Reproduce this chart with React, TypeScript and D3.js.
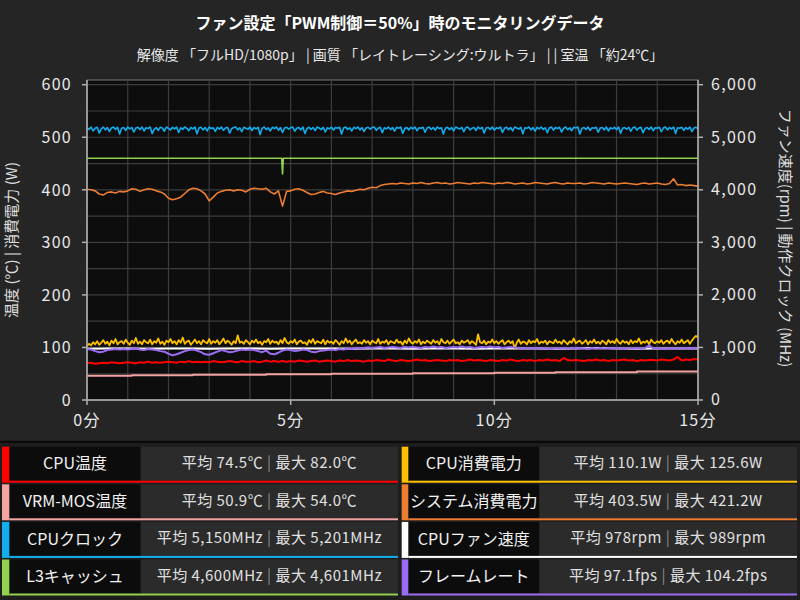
import React from "react";
import * as d3 from "d3";

const TITLE = "ファン設定「PWM制御＝50%」時のモニタリングデータ";
const SUBTITLE = "解像度 「フルHD/1080p」 | 画質 「レイトレーシング:ウルトラ」 |  | 室温 「約24℃」";
const LEFT_AXIS_TITLE = "温度 (℃) | 消費電力 (W)";
const RIGHT_AXIS_TITLE = "ファン速度(rpm) | 動作クロック (MHz)";

const leftTicks = [0, 100, 200, 300, 400, 500, 600];
const rightTicks = [0, 1000, 2000, 3000, 4000, 5000, 6000];
const timeTicks = [0, 5, 10, 15];
const timeTickLabels = ["0分", "5分", "10分", "15分"];

// sampled every 0.1 minute (6 s), 0..15 min
const sampleMinutes = d3.range(151).map((i) => i / 10);
// sampled every 0.05 minute (3 s), 0..15 min
const denseMinutes = d3.range(301).map((i) => i / 20);

const cpuClock = [
  5180, 5150, 5195, 5120, 5170, 5190, 5080, 5160, 5195, 5140, 5185, 5110, 5175, 5195, 5150, 5190, 5060, 5170, 5185, 5130,
  5195, 5160, 5185, 5100, 5175, 5190, 5145, 5195, 5120, 5180, 5165, 5195, 5070, 5150, 5185, 5130, 5190, 5175, 5115, 5195,
  5170, 5140, 5190, 5160, 5195, 5090, 5180, 5150, 5195, 5170, 5125, 5185, 5160, 5195, 5065, 5175, 5190, 5140, 5185, 5120,
  5195, 5165, 5180, 5110, 5190, 5155, 5195, 5130, 5175, 5190, 5080, 5160, 5185, 5195, 5140, 5180, 5105, 5190, 5170, 5150,
  5195, 5125, 5185, 5160, 5190, 5050, 5170, 5195, 5145, 5180, 5120, 5190, 5165, 5195, 5135, 5185, 5090, 5175, 5190, 5155,
  5180, 5195, 5115, 5170, 5185, 5140, 5195, 5070, 5165, 5190, 5150, 5185, 5125, 5195, 5175, 5145, 5190, 5100, 5180, 5160,
  5195, 5135, 5185, 5170, 5190, 5060, 5175, 5195, 5150, 5180, 5120, 5190, 5165, 5195, 5140, 5185, 5110, 5175, 5190, 5155,
  5185, 5195, 5130, 5170, 5190, 5085, 5180, 5160, 5195, 5145, 5185, 5115, 5190, 5170, 5195, 5075, 5165, 5185, 5140, 5190,
  5160, 5195, 5125, 5180, 5170, 5190, 5095, 5175, 5195, 5150, 5185, 5135, 5195, 5165, 5180, 5060, 5170, 5190, 5145, 5185,
  5120, 5195, 5175, 5155, 5190, 5105, 5180, 5195, 5140, 5170, 5185, 5130, 5195, 5160, 5190, 5080, 5175, 5185, 5150, 5195,
  5135, 5180, 5165, 5195, 5090, 5170, 5190, 5145, 5185, 5120, 5195, 5175, 5155, 5190, 5065, 5180, 5170, 5195, 5140, 5185,
  5115, 5190, 5160, 5195, 5150, 5180, 5085, 5175, 5195, 5135, 5185, 5165, 5190, 5100, 5170, 5195, 5145, 5180, 5125, 5190,
  5175, 5195, 5060, 5165, 5185, 5150, 5195, 5130, 5180, 5170, 5190, 5095, 5175, 5185, 5140, 5195, 5120, 5180, 5160, 5190,
  5145, 5195, 5075, 5170, 5185, 5155, 5190, 5115, 5180, 5195, 5135, 5175, 5190, 5085, 5165, 5185, 5150, 5195, 5125, 5180,
  5170, 5190, 5105, 5175, 5195, 5140, 5185, 5160, 5195, 5070, 5180, 5170, 5190, 5130, 5185, 5155, 5195, 5110, 5175, 5190,
  5160,
];

const cpuPower = [
  103, 107, 104, 110, 106, 112, 105, 109, 114, 107, 111, 104, 113, 108, 116, 106, 110, 112, 107, 115,
  109, 105, 113, 108, 118, 107, 111, 106, 114, 110, 108, 115, 106, 112, 109, 117, 107, 111, 105, 113,
  110, 116, 108, 112, 106, 114, 109, 119, 107, 111, 113, 105, 110, 115, 108, 112, 106, 114, 110, 108,
  116, 107, 112, 109, 114, 106, 111, 117, 108, 113, 110, 105, 112, 108, 123, 109, 111, 107, 114, 110,
  106, 113, 109, 115, 108, 111, 105, 112, 110, 116, 107, 113, 109, 111, 106, 114, 108, 118, 110, 107,
  112, 109, 115, 106, 111, 113, 108, 110, 105, 114, 109, 116, 107, 112, 110, 108, 115, 106, 113, 109,
  111, 107, 114, 110, 105, 112, 108, 117, 109, 113, 106, 111, 115, 108, 110, 107, 114, 109, 112, 106,
  113, 110, 108, 116, 107, 111, 109, 114, 106, 112, 110, 108, 115, 109, 111, 105, 113, 108, 117, 110,
  107, 112, 109, 115, 106, 111, 108, 113, 110, 107, 114, 109, 112, 106, 116, 110, 108, 113, 107, 111,
  115, 108, 110, 106, 113, 109, 111, 114, 107, 112, 109, 105, 125, 110, 108, 113, 106, 111, 109, 115,
  108, 112, 107, 111, 114, 106, 110, 113, 108, 112, 98, 109, 115, 107, 111, 110, 106, 114, 108, 112,
  110, 116, 107, 111, 109, 113, 106, 112, 110, 108, 115, 109, 111, 107, 114, 110, 106, 112, 109, 117,
  108, 111, 113, 107, 110, 114, 106, 112, 109, 115, 108, 111, 107, 113, 110, 106, 114, 109, 112, 108,
  116, 110, 107, 113, 109, 111, 106, 114, 108, 112, 110, 117, 107, 111, 109, 113, 106, 115, 110, 108,
  112, 109, 114, 107, 111, 113, 108, 116, 110, 106, 112, 109, 115, 108, 111, 114, 107, 113, 118, 122,
  119,
];

const systemPower = [
  401, 400, 398, 392, 390, 395, 396, 394, 397, 396,
  398, 402, 401, 397, 400, 402, 401, 398, 396, 392,
  384, 381, 383, 386, 393, 400, 403, 402, 398, 392,
  379, 386, 394, 397, 399, 400, 398, 400, 399, 396,
  401, 403, 402, 401, 403, 396, 392, 398, 369, 397,
  398, 401, 402, 399, 395, 391, 392, 395, 397, 394,
  393, 391, 394, 396, 398, 397, 399, 401, 400, 403,
  405, 404, 408, 410, 411, 412, 411, 413, 412, 411,
  413, 412, 414, 412, 411, 413, 414, 412, 413, 411,
  412, 414, 413, 412, 411, 413, 412, 414, 413, 412,
  411, 413, 412, 414, 413, 411, 412, 413, 411, 412,
  414, 413, 412, 411, 413, 414, 412, 411, 413, 412,
  412, 413, 411, 412, 414, 413, 412, 411, 413, 412,
  411, 412, 413, 412, 411, 410, 412, 413, 411, 412,
  413, 411, 410, 412, 421, 409, 410, 408, 409, 408, 407,
];

const cpuTemp = [
  70, 71, 69, 70, 71, 70, 72, 71, 70, 71,
  72, 71, 70, 72, 71, 73, 71, 72, 71, 72,
  73, 72, 71, 73, 72, 74, 72, 73, 72, 73,
  72, 74, 73, 72, 73, 74, 73, 72, 74, 73,
  73, 74, 72, 73, 75, 73, 74, 73, 74, 73,
  74, 73, 75, 74, 73, 74, 75, 73, 74, 75,
  74, 73, 75, 74, 76, 74, 75, 74, 73, 75,
  74, 76, 75, 74, 77, 75, 74, 76, 75, 74,
  75, 77, 75, 76, 74, 75, 76, 75, 74, 76,
  75, 76, 74, 75, 77, 75, 76, 75, 74, 76,
  75, 74, 76, 75, 77, 75, 74, 76, 75, 76,
  74, 76, 75, 77, 75, 76, 74, 80, 76, 75,
  76, 75, 74, 76, 75, 77, 75, 76, 74, 76,
  75, 76, 77, 75, 76, 74, 76, 75, 76, 76,
  75, 77, 76, 75, 77, 82, 75, 77, 76, 78, 77,
];

const frameRate = [
  97, 96, 93, 91, 92, 95, 96, 97, 96, 97,
  96, 97, 98, 96, 95, 97, 96, 95, 93, 92,
  88, 85, 87, 90, 93, 95, 96, 94, 91, 87,
  86, 89, 92, 95, 93, 91, 92, 94, 96, 95,
  96, 95, 93, 91, 94, 88, 87, 90, 94, 96,
  95, 93, 94, 96, 95, 92, 91, 93, 94, 95,
  96, 95, 97, 96, 98, 97, 99, 98, 99, 100,
  99, 100, 101, 99, 100, 101, 100, 99, 101, 100,
  101, 100, 99, 101, 100, 102, 100, 101, 99, 100,
  101, 100, 102, 100, 101, 99, 100, 101, 100, 102,
  100, 101, 99, 100, 101, 100, 99, 98, 99, 98,
  99, 98, 99, 98, 97, 99, 98, 99, 98, 99,
  98, 99, 98, 97, 99, 98, 99, 98, 99, 98,
  99, 98, 97, 99, 98, 99, 98, 99, 104, 98,
  99, 98, 97, 99, 98, 99, 98, 99, 98, 99, 98,
];

// VRM temperature: stepwise readings
const vrmMinutes = [0, 1.1, 2.6, 4.4, 6.0, 8.0, 10.0, 11.5, 13.5, 15];
const vrmTemp = [46, 47, 48, 49, 50, 51, 52, 53, 54, 54];

// L3 cache clock
const l3Minutes = [0, 4.78, 4.8, 4.82, 15];
const l3Clock = [4600, 4600, 4300, 4600, 4600];

// CPU fan speed, every 0.5 minute
const fanMinutes = d3.range(31).map((i) => i / 2);
const fanSpeed = [
  975, 978, 980, 976, 979, 981, 977, 978, 980, 976,
  979, 982, 978, 977, 980, 979, 976, 978, 981, 977,
  979, 978, 980, 976, 978, 989, 979, 977, 980, 978, 979,
];

const legendNames = ["CPU温度", "VRM-MOS温度", "CPUクロック", "L3キャッシュ", "CPU消費電力", "システム消費電力", "CPUファン速度", "フレームレート"];
const legendAvg = ["74.5℃", "50.9℃", "5,150MHz", "4,600MHz", "110.1W", "403.5W", "978rpm", "97.1fps"];
const legendMax = ["82.0℃", "54.0℃", "5,201MHz", "4,601MHz", "125.6W", "421.2W", "989rpm", "104.2fps"];
const legendColors = ["#ff0000", "#f4a3a3", "#12aef0", "#92d050", "#ffc000", "#ed7d31", "#ffffff", "#9b6cf3"];

const W = 800;
const H = 600;
const PL = 87, PR = 698, PT = 80, PB = 400;

const FONT = "'Noto Sans CJK JP', 'Noto Sans', sans-serif";

export default function App() {
  const x = d3.scaleLinear().domain([0, 15]).range([PL, PR]);
  const yL = d3.scaleLinear().domain([0, 600]).range([PB, 84.7]);
  const yR = d3.scaleLinear().domain([0, 6000]).range([PB, 84.7]);

  const lineL = (ts: number[], vs: number[], curve: any = d3.curveLinear) =>
    d3.line<number>().x((_, i) => x(ts[i])).y((v) => yL(v)).curve(curve)(vs) || "";
  const lineR = (ts: number[], vs: number[], curve: any = d3.curveLinear) =>
    d3.line<number>().x((_, i) => x(ts[i])).y((v) => yR(v)).curve(curve)(vs) || "";

  const minuteGrid = d3.range(1, 15);
  const yGrid = d3.range(50, 601, 50);

  const series = [
    { d: lineL(vrmMinutes, vrmTemp, d3.curveStepAfter), c: legendColors[1], w: 2 },
    { d: lineL(sampleMinutes, cpuTemp), c: legendColors[0], w: 2 },
    { d: lineR(denseMinutes, cpuClock), c: legendColors[2], w: 1.6 },
    { d: lineR(l3Minutes, l3Clock), c: legendColors[3], w: 1.6 },
    { d: lineR(fanMinutes, fanSpeed), c: legendColors[6], w: 2 },
    { d: lineL(denseMinutes, cpuPower), c: legendColors[4], w: 1.8 },
    { d: lineL(sampleMinutes, systemPower), c: legendColors[5], w: 1.6 },
    { d: lineL(sampleMinutes, frameRate), c: legendColors[7], w: 2 },
  ];

  const rowTop0 = 446.7;
  const rowPitch = 37.6;
  const cellH = 36;
  const cols = [
    { bar: 2, name: 9.3, val: 140.7, end: 398 },
    { bar: 401.7, name: 408.3, val: 539.3, end: 797 },
  ];

  return (
    <svg
      width={W}
      height={H}
      viewBox={`0 0 ${W} ${H}`}
      style={{ position: "absolute", left: 0, top: 0, display: "block" }}
      fontFamily={FONT}
    >
      <rect x={0} y={0} width={W} height={H} fill="#252525" />
      <text x={400} y={29} textAnchor="middle" fill="#ffffff" fontSize={16} fontWeight="bold">
        {TITLE}
      </text>
      <text x={400} y={60} textAnchor="middle" fill="#e8e8e8" fontSize={14}>
        {SUBTITLE}
      </text>

      {/* plot background */}
      <rect x={PL} y={PT} width={PR - PL} height={PB - PT} fill="#0d0d0d" stroke="#7a7a7a" strokeWidth={1} />
      {minuteGrid.map((m) => (
        <line key={"vg" + m} x1={x(m)} x2={x(m)} y1={PT} y2={PB} stroke="#3d3d3d" strokeWidth={1.2} />
      ))}
      {yGrid.map((v) => (
        <line key={"hg" + v} x1={PL} x2={PR} y1={yL(v)} y2={yL(v)} stroke="#3d3d3d" strokeWidth={1.2} />
      ))}

      {/* series */}
      <g fill="none" strokeLinejoin="round">
        {series.map((s, i) => (
          <path key={i} d={s.d} stroke={s.c} strokeWidth={s.w} />
        ))}
      </g>

      {/* axes */}
      <g stroke="#b0b0b0" strokeWidth={1.5}>
        <line x1={PL} x2={PL} y1={PT} y2={PB} />
        <line x1={PR} x2={PR} y1={PT} y2={PB} />
        <line x1={PL} x2={PR} y1={PB} y2={PB} />
        {leftTicks.map((v) => (
          <line key={"lt" + v} x1={PL - 5} x2={PL} y1={yL(v)} y2={yL(v)} />
        ))}
        {rightTicks.map((v) => (
          <line key={"rt" + v} x1={PR} x2={PR + 5} y1={yR(v)} y2={yR(v)} />
        ))}
        {timeTicks.map((t) => (
          <line key={"bt" + t} x1={x(t)} x2={x(t)} y1={PB} y2={PB + 5} />
        ))}
      </g>
      <g fill="#e8e8e8" fontSize={16} letterSpacing={1.3}>
        {leftTicks.map((v) => (
          <text key={"ll" + v} x={72} y={yL(v)} dy="0.36em" textAnchor="end">
            {d3.format(",")(v)}
          </text>
        ))}
        {rightTicks.map((v) => (
          <text key={"rl" + v} x={711} y={yR(v)} dy="0.34em" textAnchor="start">
            {d3.format(",")(v)}
          </text>
        ))}
        {timeTicks.map((t, i) => (
          <text key={"bl" + t} x={x(t)} y={426} textAnchor="middle">
            {timeTickLabels[i]}
          </text>
        ))}
      </g>
      <text
        transform={`translate(17,${(PT + PB) / 2}) rotate(-90)`}
        textAnchor="middle"
        fill="#dddddd"
        fontSize={15}
      >
        {LEFT_AXIS_TITLE}
      </text>
      <text
        transform={`translate(780,${(PT + PB) / 2 - 2}) rotate(90)`}
        textAnchor="middle"
        fill="#dddddd"
        fontSize={15}
      >
        {RIGHT_AXIS_TITLE}
      </text>

      {/* table */}
      <rect x={0} y={440} width={W} height={H - 440} fill="#1e1e1e" />
      <line x1={0} x2={W} y1={442} y2={442} stroke="#0a0a0a" strokeWidth={2} />
      {legendNames.map((name, i) => {
        const col = cols[i < 4 ? 0 : 1];
        const r = i % 4;
        const top = rowTop0 + r * rowPitch;
        const color = legendColors[i];
        const cx = (col.val + col.end) / 2;
        const nx = (col.name + col.val) / 2;
        return (
          <g key={"row" + i}>
            <rect x={col.name} y={top} width={col.val - col.name} height={cellH - 2} fill="#0c0c0c" />
            <rect x={col.val} y={top} width={col.end - col.val} height={cellH - 2} fill="#2b2b2b" />
            <rect x={col.bar} y={top} width={col.name - col.bar} height={cellH} fill={color} />
            <rect x={col.name} y={top + cellH - 2} width={col.end - col.name} height={2} fill={color} />
            <text x={nx} y={top + 17} dy="0.36em" textAnchor="middle" fill="#f2f2f2" fontSize={16}>
              {name}
            </text>
            <text x={cx} y={top + 16} dy="0.36em" textAnchor="middle" fill="#e0e0e0" fontSize={15} letterSpacing={0.5}>
              <tspan>{"平均 " + legendAvg[i] + " "}</tspan>
              <tspan fill="#8a8a8a">|</tspan>
              <tspan>{" 最大 " + legendMax[i]}</tspan>
            </text>
          </g>
        );
      })}
    </svg>
  );
}
